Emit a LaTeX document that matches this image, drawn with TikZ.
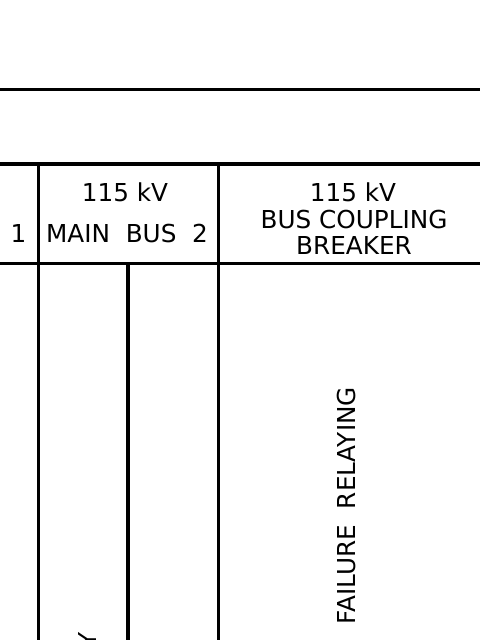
\documentclass[tikz,border=0pt]{standalone}
\usepackage{fontspec}
\setmainfont{DejaVu Sans}
\begin{document}
\begin{tikzpicture}[x=1pt,y=-1pt,
  rule/.style={line width=3.3pt,line cap=butt},
  lbl/.style={inner sep=0pt,font=\fontsize{24.7}{28}\selectfont}]
\useasboundingbox (0,0) rectangle (480,640);
\clip (0,0) rectangle (480,640);
\fill[white] (0,0) rectangle (480,640);
% horizontal rules
\draw[rule] (0,89.3) -- (480,89.3);
\draw[rule] (0,164) -- (480,164);
\draw[rule] (0,263.3) -- (480,263.3);
% vertical rules
\draw[rule] (38.3,164) -- (38.3,640);
\draw[rule] (218.5,164) -- (218.5,640);
\draw[rule] (128,263.3) -- (128,640);
% header texts
\node[lbl,anchor=base east] (mb1) at (26.5,242.5) {MAIN BUS\hspace{11pt}1};
\node[lbl,anchor=base] (kv2) at (125,201.5) {115 kV};
\node[lbl,anchor=base] (mb2) at (127,242.5) {MAIN\ \ BUS\ \ 2};
\node[lbl,anchor=base] (kv3) at (353,201.5) {115 kV};
\node[lbl,anchor=base] (bc) at (354,228) {BUS COUPLING};
\node[lbl,anchor=base] (br) at (354,254.5) {BREAKER};
% vertical texts
\node[lbl,anchor=base west,rotate=90] (fr) at (355,624.5) {FAILURE\ \ RELAYING};
\node[lbl,anchor=base east,rotate=90] (ry) at (96,632) {RELAY};
\end{tikzpicture}
\end{document}
